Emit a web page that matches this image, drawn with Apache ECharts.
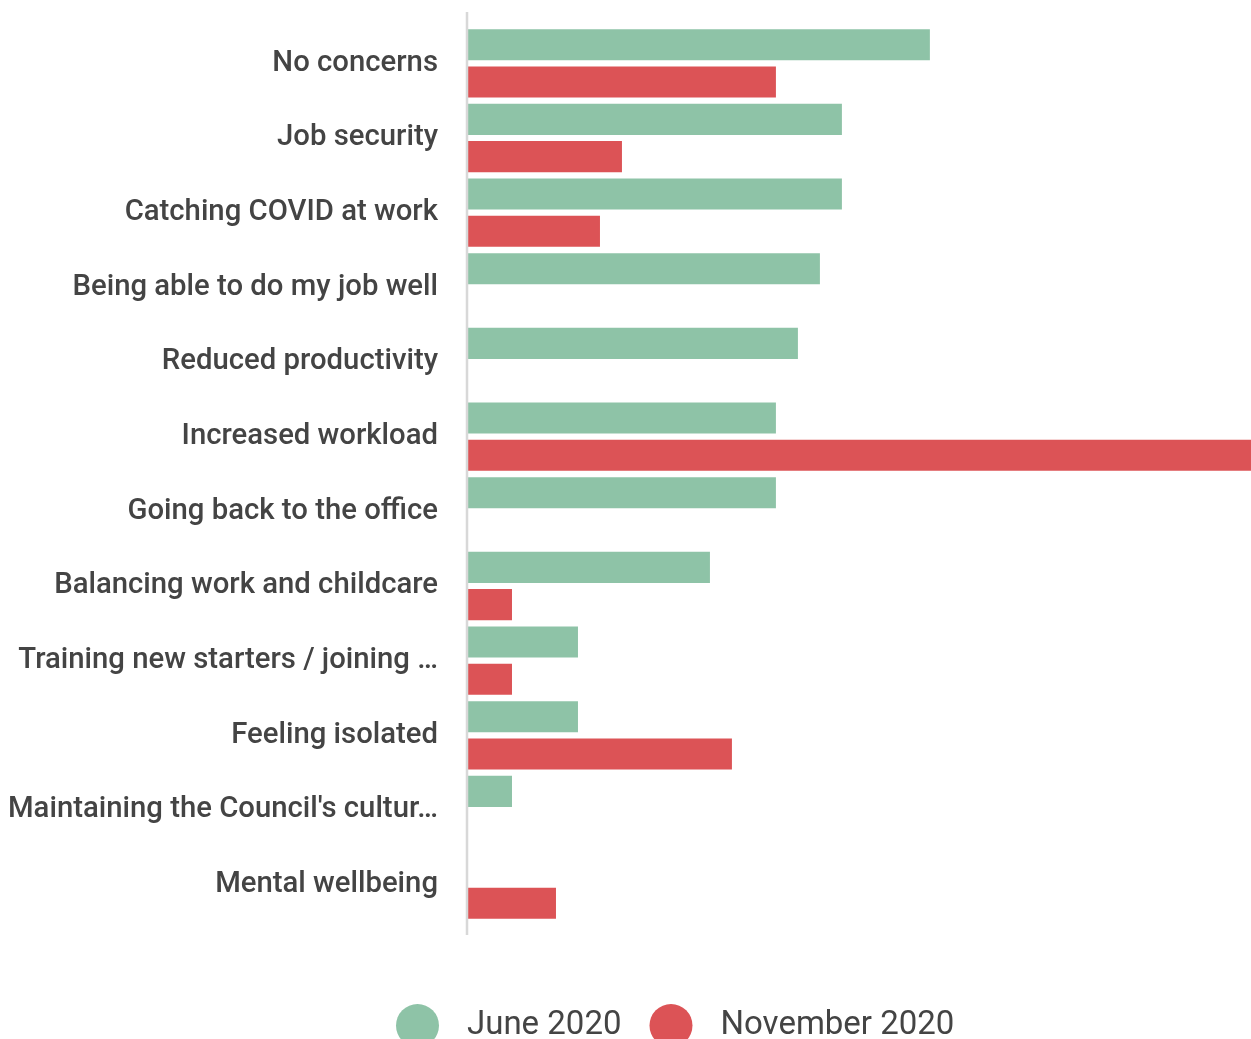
<!DOCTYPE html>
<html>
<head>
<meta charset="utf-8">
<script src="https://cdn.jsdelivr.net/npm/echarts@6/dist/echarts.min.js"></script>
<style>
  html, body { margin: 0; padding: 0; background: #fff; }
  #chart { width: 1251px; height: 1039px; }
</style>
</head>
<body>
<div id="chart"></div>
<script>
const categories = [
  'No concerns',
  'Job security',
  'Catching COVID at work',
  'Being able to do my job well',
  'Reduced productivity',
  'Increased workload',
  'Going back to the office',
  'Balancing work and childcare',
  'Training new starters / joining …',
  'Feeling isolated',
  "Maintaining the Council's cultur…",
  'Mental wellbeing'
]
const seriesNames = ['June 2020', 'November 2020']
const june2020 = [21, 17, 17, 16, 15, 14, 14, 11, 5, 5, 2, null]
const november2020 = [14, 7, 6, null, null, 36, null, 2, 2, 12, null, 4]

const GREEN = '#8ec3a7'
const RED = '#dc5356'
const TEXT = '#444444'

const myChart = echarts.init(document.getElementById('chart'))

const option = {
  animation: false,
  textStyle: { fontFamily: 'Roboto' },
  grid: { left: 468, right: 0, top: 26, bottom: 117, containLabel: false },
  legend: {
    left: 391,
    top: 999,
    icon: 'circle',
    itemWidth: 43,
    itemHeight: 43,
    itemGap: 28,
    textStyle: {
      fontSize: 33,
      color: TEXT,
      fontFamily: 'Roboto',
      padding: [0, 0, 0, 23]
    },
    data: seriesNames
  },
  xAxis: {
    type: 'value',
    min: 0,
    max: 35.6,
    show: false,
    splitLine: { show: false }
  },
  yAxis: {
    type: 'category',
    inverse: true,
    data: categories,
    axisLine: { show: false },
    axisTick: { show: false },
    axisLabel: {
      fontSize: 29.3,
      fontWeight: 500,
      color: TEXT,
      fontFamily: 'Roboto',
      margin: 30,
      padding: [2, 0, 0, 0]
    }
  },
  // grey baseline, a bit longer than the plot area
  graphic: [
    {
      type: 'line',
      shape: { x1: 467, y1: 12, x2: 467, y2: 935 },
      style: { stroke: '#d8d8d8', lineWidth: 2.5 },
      z: 10
    }
  ],
  series: [
    {
      name: seriesNames[0],
      type: 'bar',
      data: june2020,
      barGap: '20%',
      barCategoryGap: '8.4%',
      itemStyle: { color: GREEN }
    },
    {
      name: seriesNames[1],
      type: 'bar',
      data: november2020,
      itemStyle: { color: RED }
    }
  ]
}

myChart.setOption(option)
</script>
</body>
</html>
